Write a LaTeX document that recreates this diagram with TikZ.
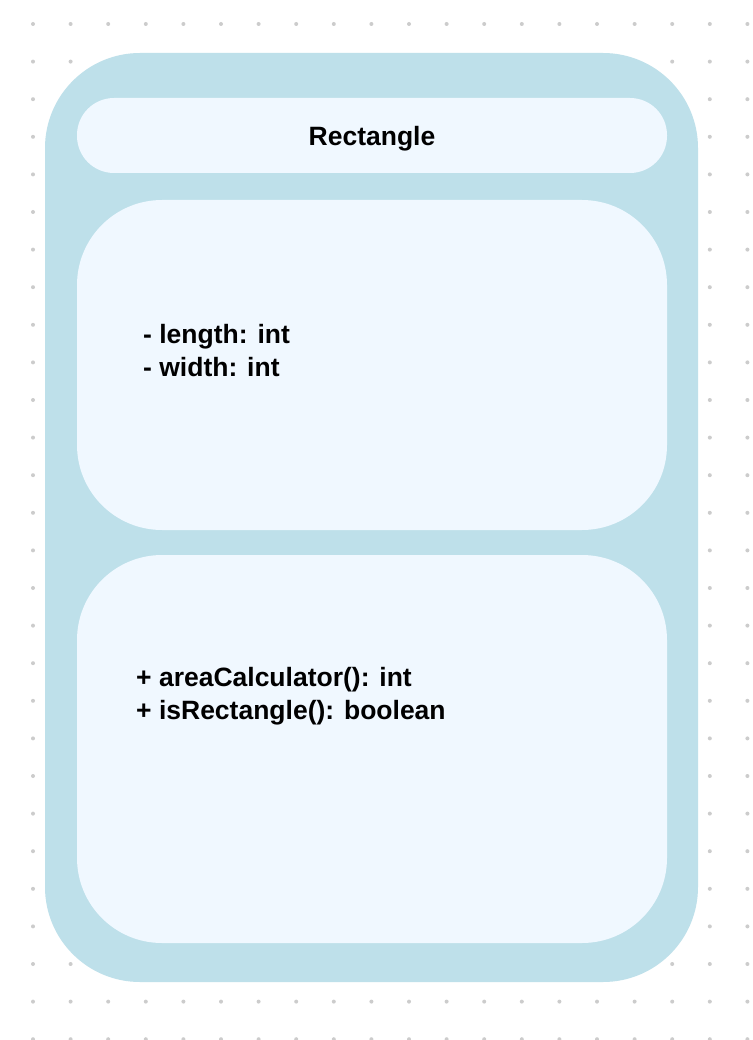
\documentclass[tikz,border=0pt]{standalone}
\usepackage{fontspec}
\setmainfont{Liberation Sans}
\definecolor{outerblue}{HTML}{BEE0EA}
\definecolor{innerbg}{HTML}{F0F8FF}
\definecolor{dotgrey}{HTML}{CCCCCC}
\begin{document}
\begin{tikzpicture}[x=1pt,y=-1pt,
  panel/.style={fill=innerbg,draw=none},
  label/.style={inner sep=0pt,font=\bfseries\fontsize{26.5}{33}\selectfont,text=black},
  listtext/.style={label,align=left,anchor=west}]
\useasboundingbox (0,0) rectangle (752,1040);
\fill[white] (0,0) rectangle (752,1040);
\foreach \i in {0,...,19}{\foreach \j in {0,...,27}{
  \fill[dotgrey] (33+37.6*\i,24+37.6*\j) circle (2);}}
\fill[outerblue,rounded corners=95pt] (45,53) rectangle (698,982);
\fill[innerbg,rounded corners=37pt] (77,98) rectangle (667,173);
\fill[innerbg,rounded corners=85pt] (77,200) rectangle (667,530);
\fill[innerbg,rounded corners=85pt] (77,555) rectangle (667,943);
\node[label] (title) at (372,139) {Rectangle};
\node[listtext] (attrs) at (143,351) {- length: int\\- width: int};
\node[listtext] (ops) at (136,696) {+ areaCalculator(): int\\+ isRectangle(): boolean};
\end{tikzpicture}
\end{document}
